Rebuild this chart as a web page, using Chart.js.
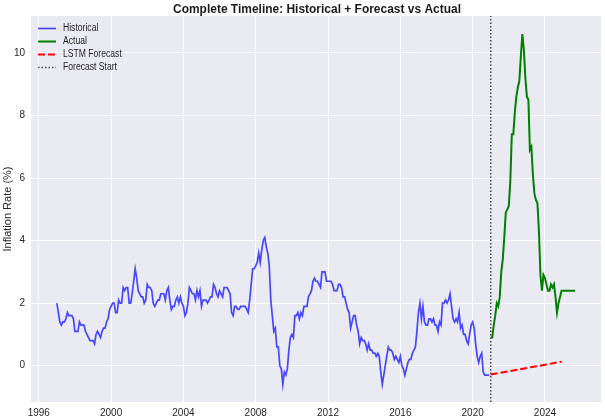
<!DOCTYPE html>
<html>
<head>
<meta charset="utf-8">
<script src="https://cdn.jsdelivr.net/npm/chart.js@4.4.1/dist/chart.umd.min.js"></script>
<style>
  html, body { margin: 0; padding: 0; background: #ffffff; }
  #wrap { width: 605px; height: 420px; }
</style>
</head>
<body>
<div id="wrap"><canvas id="chart"></canvas></div>
<script>
const FONT = "\"Liberation Sans Narrow\", \"Arial Narrow\", \"Liberation Sans\", Arial, sans-serif";
const FONT_WIDE = "\"Liberation Sans\", Arial, sans-serif";

// monthly, Jan 1997 .. Dec 2020
const histStartYear = 1997;
const historical = [
  2.0, 1.7, 1.4, 1.3, 1.4, 1.4, 1.5, 1.7, 1.6, 1.6, 1.6, 1.5,
  1.1, 1.1, 1.1, 1.4, 1.3, 1.3, 1.3, 1.1, 1.0, 0.9, 0.8, 0.8,
  0.8, 0.7, 1.0, 1.1, 1.0, 0.9, 1.1, 1.2, 1.2, 1.4, 1.5, 1.8,
  1.9, 2.0, 2.0, 1.7, 1.7, 2.1, 2.0, 2.0, 2.5, 2.4, 2.5, 2.5,
  2.0, 2.0, 2.3, 2.7, 3.1, 2.8, 2.4, 2.3, 2.2, 2.2, 2.0, 2.1,
  2.6, 2.5, 2.5, 2.4, 2.0, 1.9, 2.0, 2.1, 2.1, 2.3, 2.3, 2.3,
  2.1, 2.4, 2.5, 2.1, 1.8, 1.9, 1.9, 2.1, 2.2, 2.0, 2.2, 2.0,
  1.9, 1.6, 1.7, 2.0, 2.5, 2.4, 2.3, 2.3, 2.1, 2.4, 2.2, 2.4,
  1.9, 2.1, 2.1, 2.1, 2.0, 2.1, 2.2, 2.2, 2.6, 2.5, 2.3, 2.2,
  2.4, 2.3, 2.2, 2.5, 2.5, 2.5, 2.4, 2.3, 1.7, 1.6, 1.9, 1.9,
  1.8, 1.8, 1.9, 1.9, 1.9, 1.9, 1.8, 1.7, 2.1, 2.6, 3.1, 3.1,
  3.2, 3.3, 3.6, 3.3, 3.7, 4.0, 4.1, 3.8, 3.6, 3.2, 2.1, 1.6,
  1.1, 1.2, 0.6, 0.6, 0.0, -0.1, -0.6, -0.2, -0.3, -0.1, 0.5, 0.9,
  1.0, 0.9, 1.6, 1.6, 1.7, 1.5, 1.7, 1.6, 1.9, 1.9, 1.9, 2.2,
  2.3, 2.4, 2.7, 2.8, 2.7, 2.7, 2.6, 2.5, 3.0, 3.0, 3.0, 2.7,
  2.7, 2.7, 2.7, 2.6, 2.4, 2.4, 2.4, 2.6, 2.6, 2.5, 2.2, 2.2,
  2.0, 1.8, 1.7, 1.2, 1.4, 1.6, 1.6, 1.3, 1.1, 0.7, 0.9, 0.8,
  0.8, 0.7, 0.5, 0.7, 0.5, 0.5, 0.4, 0.4, 0.3, 0.4, 0.3, -0.2,
  -0.6, -0.3, 0.0, 0.3, 0.6, 0.5, 0.5, 0.4, 0.2, 0.3, 0.2, 0.1,
  0.3, 0.0, -0.1, -0.3, -0.1, 0.1, 0.2, 0.2, 0.4, 0.5, 0.6, 1.1,
  1.7, 2.0, 1.5, 1.9, 1.4, 1.3, 1.3, 1.5, 1.5, 1.4, 1.5, 1.3,
  1.3, 1.1, 1.4, 1.3, 2.0, 2.0, 2.1, 2.0, 2.1, 2.3, 1.9, 1.5,
  1.4, 1.5, 1.4, 1.7, 1.2, 1.3, 1.0, 1.0, 0.8, 0.7, 1.0, 1.3,
  1.4, 1.2, 0.7, 0.3, 0.1, 0.3, 0.4, -0.2, -0.3, -0.3, -0.3, -0.3
];

// monthly, Jan 2021 .. Sep 2025
const actualStartYear = 2021;
const actual = [
  0.9, 0.9, 1.3, 1.6, 2.0, 1.9, 2.2, 3.0, 3.4, 4.1, 4.9, 5.0,
  5.1, 5.9, 7.4, 7.4, 8.1, 8.6, 8.9, 9.1, 9.9, 10.6, 10.1, 9.2,
  8.6, 8.5, 6.9, 7.0, 6.1, 5.5, 5.3, 5.2, 4.3, 2.9, 2.4, 2.9,
  2.8, 2.6, 2.4, 2.4, 2.6, 2.5, 2.6, 2.2, 1.7, 2.0, 2.2, 2.4,
  2.4, 2.4, 2.4, 2.4, 2.4, 2.4, 2.4, 2.4, 2.4
];

const forecastYears = [2021.0, 2022.0, 2023.0, 2024.0, 2024.92];
const forecastValues = [-0.28, -0.18, -0.07, 0.03, 0.13];

const forecastStart = 2021.0;
const xTicks = [1996, 2000, 2004, 2008, 2012, 2016, 2020, 2024];
const yTicks = [0, 2, 4, 6, 8, 10];
const xMin = 1995.57, xMax = 2027.1;
const yMin = -1.16, yMax = 11.18;

function monthly(startYear, values) {
  return values.map((v, i) => ({ x: startYear + i / 12, y: v }));
}

// text squeezed sideways a little, like the reference
function squeezedText(ctx, text, x, y, sx) {
  ctx.save();
  ctx.translate(x, y);
  ctx.scale(sx, 1);
  ctx.fillText(text, 0, 0);
  ctx.restore();
}

Chart.register({
  id: "axesBackground",
  beforeDraw(chart) {
    const a = chart.chartArea;
    const ctx = chart.ctx;
    ctx.save();
    ctx.fillStyle = "#eaeaf2";
    ctx.fillRect(a.left, a.top, a.right - a.left, a.bottom - a.top);
    ctx.restore();
  }
});

Chart.register({
  id: "titleAndLegend",
  afterDraw(chart) {
    const a = chart.chartArea;
    const ctx = chart.ctx;
    ctx.save();
    ctx.fillStyle = "#1a1a1a";
    ctx.font = `bold 13px ${FONT}`;
    ctx.textAlign = "center";
    ctx.textBaseline = "middle";
    squeezedText(ctx, "Complete Timeline: Historical + Forecast vs Actual", (a.left + a.right) / 2 + 1, 9, 0.92);

    ctx.font = `10px ${FONT}`;
    ctx.textAlign = "left";
    chart.data.datasets.forEach((ds, i) => {
      const y = a.top + 12.5 + i * 13;
      ctx.beginPath();
      ctx.strokeStyle = ds.borderColor;
      ctx.lineWidth = ds.borderWidth;
      ctx.setLineDash(ds.borderDash || []);
      ctx.moveTo(a.left + 7, y);
      ctx.lineTo(a.left + 25, y);
      ctx.stroke();
      ctx.setLineDash([]);
      ctx.fillStyle = "#262626";
      squeezedText(ctx, ds.label, a.left + 32, y, 0.86);
    });
    ctx.restore();
  }
});

new Chart(document.getElementById("chart"), {
  type: "scatter",
  data: {
    datasets: [
      {
        label: "Historical",
        data: monthly(histStartYear, historical),
        borderColor: "rgba(0,0,255,0.7)",
        borderWidth: 1.7
      },
      {
        label: "Actual",
        data: monthly(actualStartYear, actual),
        borderColor: "#008000",
        borderWidth: 2
      },
      {
        label: "LSTM Forecast",
        data: forecastYears.map((x, i) => ({ x, y: forecastValues[i] })),
        borderColor: "#ff0000",
        borderWidth: 2,
        borderDash: [7, 3]
      },
      {
        label: "Forecast Start",
        data: [{ x: forecastStart, y: yMin }, { x: forecastStart, y: yMax }],
        borderColor: "rgba(0,0,0,0.7)",
        borderWidth: 1.5,
        borderDash: [1.5, 2]
      }
    ].map((ds) => Object.assign(ds, { showLine: true, pointRadius: 0, pointHoverRadius: 0, tension: 0, fill: false }))
  },
  options: {
    responsive: true,
    maintainAspectRatio: false,
    animation: false,
    layout: { padding: { top: 16, right: 4, left: 0, bottom: 0 } },
    plugins: {
      legend: { display: false },
      title: { display: false },
      tooltip: { enabled: false }
    },
    scales: {
      x: {
        type: "linear",
        min: xMin,
        max: xMax,
        afterBuildTicks: (scale) => { scale.ticks = xTicks.map((v) => ({ value: v })); },
        afterFit: (scale) => { scale.height = 18; },
        border: { display: false },
        grid: { color: "#ffffff", lineWidth: 1, drawTicks: false },
        ticks: {
          padding: 5,
          color: "#262626",
          font: { family: FONT, size: 10 },
          maxRotation: 0,
          callback: (v) => String(v)
        }
      },
      y: {
        min: yMin,
        max: yMax,
        afterBuildTicks: (scale) => { scale.ticks = yTicks.map((v) => ({ value: v })); },
        afterFit: (scale) => { scale.width = 31; },
        border: { display: false },
        grid: { color: "#ffffff", lineWidth: 1, drawTicks: false },
        title: {
          display: true,
          text: "Inflation Rate (%)",
          color: "#262626",
          font: { family: FONT_WIDE, size: 11 },
          padding: { top: 1, bottom: 0 }
        },
        ticks: {
          padding: 6,
          color: "#262626",
          font: { family: FONT, size: 10 },
          callback: (v) => String(v)
        }
      }
    }
  }
});
</script>
</body>
</html>
